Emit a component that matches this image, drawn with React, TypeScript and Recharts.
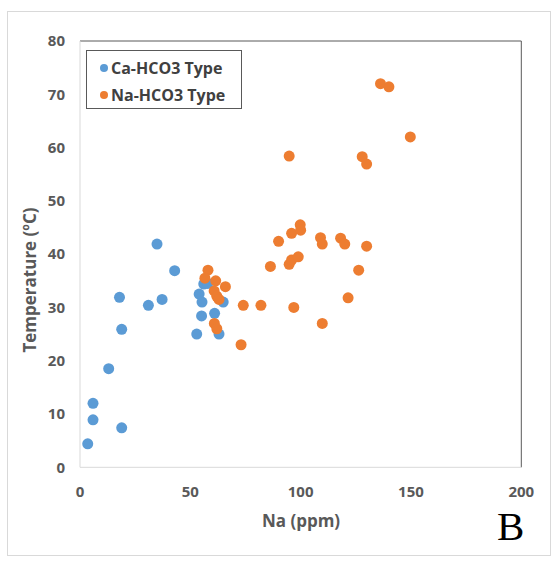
import React from 'react';
import { ScatterChart, Scatter, XAxis, YAxis, ReferenceLine } from 'recharts';

// Ca-HCO3 type samples
const caNa = [3.5, 5.9, 5.9, 18.9, 13.0, 18.9, 17.9, 31.0, 37.2, 34.9, 42.9, 52.9, 54.0, 55.3, 55.1, 56.1, 57.9, 61.0, 63.0, 64.9];
const caTemp = [4.4, 8.9, 12.0, 7.4, 18.5, 25.9, 31.9, 30.4, 31.5, 41.9, 36.9, 25.0, 32.5, 31.0, 28.4, 34.4, 34.5, 28.9, 25.0, 31.0];

// Na-HCO3 type samples
const naNa = [58.0, 56.6, 61.5, 65.9, 60.8, 62.0, 63.0, 74.0, 82.0, 60.9, 62.0, 73.0, 86.3, 90.0, 95.9, 99.8, 100.0, 94.8, 94.8, 95.9, 98.9, 96.9, 109.0, 109.8, 109.8, 118.1, 120.0, 121.5, 126.3, 129.9, 127.9, 129.9, 136.2, 140.0, 149.7];
const naTemp = [37.0, 35.5, 35.0, 33.9, 33.1, 32.1, 31.5, 30.4, 30.4, 27.0, 26.0, 23.0, 37.7, 42.4, 43.9, 45.5, 44.5, 58.4, 38.1, 38.9, 39.5, 30.0, 43.1, 41.9, 27.0, 43.0, 41.9, 31.8, 37.0, 41.5, 58.3, 56.9, 72.0, 71.4, 62.0];

const seriesNames = ['Ca-HCO3 Type', 'Na-HCO3 Type'];
const xTicks = [0, 50, 100, 150, 200];
const yTicks = [0, 10, 20, 30, 40, 50, 60, 70, 80];

const BLUE = '#5B9BD5';
const ORANGE = '#ED7D31';
const TEXT = '#595959';
const FONT = '"Open Sans", Calibri, sans-serif';

const caData = caNa.map((na, i) => ({ na, temp: caTemp[i] }));
const naData = naNa.map((na, i) => ({ na, temp: naTemp[i] }));

const dot = (color: string) => (p: any) => <circle cx={p.cx} cy={p.cy} r={5.5} fill={color} />;

const tickStyle = { fill: TEXT, fontSize: 15, fontWeight: 700, fontFamily: FONT };

export default function App() {
  return (
    <div style={{ position: 'absolute', left: 0, top: 0, width: 555, height: 561, background: '#fff' }}>
      <div style={{ position: 'absolute', left: 7, top: 11, width: 544, height: 545, border: '1px solid #d9d9d9', boxSizing: 'border-box' }} />
      <ScatterChart width={555} height={561} margin={{ top: 41, right: 33.7, left: 0, bottom: 63.7 }}>
        <XAxis
          type="number"
          dataKey="na"
          domain={[0, 200]}
          ticks={xTicks}
          height={30}
          tickLine={false}
          tickSize={0}
          tickMargin={19}
          axisLine={{ stroke: '#d9d9d9' }}
          tick={tickStyle}
          label={() => (
            <text x={301} y={527} textAnchor="middle" fill={TEXT} fontSize={17} fontWeight={700} fontFamily={FONT}>Na (ppm)</text>
          )}
        />
        <YAxis
          type="number"
          dataKey="temp"
          domain={[0, 80]}
          ticks={yTicks}
          width={80}
          tickLine={false}
          tickSize={0}
          tickMargin={15}
          axisLine={{ stroke: '#d9d9d9' }}
          tick={tickStyle}
          label={() => (
            <text x={36} y={280} transform="rotate(-90 36 280)" textAnchor="middle" fill={TEXT} fontSize={17} fontWeight={700} fontFamily={FONT}>Temperature (ºC)</text>
          )}
        />
        <ReferenceLine y={80} stroke="#595959" strokeWidth={1} />
        <ReferenceLine x={200} stroke="#595959" strokeWidth={1} />
        <Scatter name={seriesNames[0]} data={caData} fill={BLUE} shape={dot(BLUE)} isAnimationActive={false} />
        <Scatter name={seriesNames[1]} data={naData} fill={ORANGE} shape={dot(ORANGE)} isAnimationActive={false} />
      </ScatterChart>
      <div style={{ position: 'absolute', left: 86, top: 50, border: '1px solid #595959', width: 156, height: 59, boxSizing: 'border-box', padding: '3px 0 0 13px', background: '#fff' }}>
        {seriesNames.map((name, i) => (
          <div key={name} style={{ display: 'flex', alignItems: 'center', height: 27, fontFamily: FONT, fontWeight: 700, fontSize: 16, color: '#404040', whiteSpace: 'nowrap' }}>
            <span style={{ width: 8, height: 8, borderRadius: 4, background: i === 0 ? BLUE : ORANGE, marginRight: 3, display: 'inline-block' }} />
            {name}
          </div>
        ))}
      </div>
      <div style={{ position: 'absolute', left: 497, top: 504, fontFamily: '"Liberation Serif", serif', fontSize: 41, lineHeight: '45px', color: '#000' }}>B</div>
    </div>
  );
}
